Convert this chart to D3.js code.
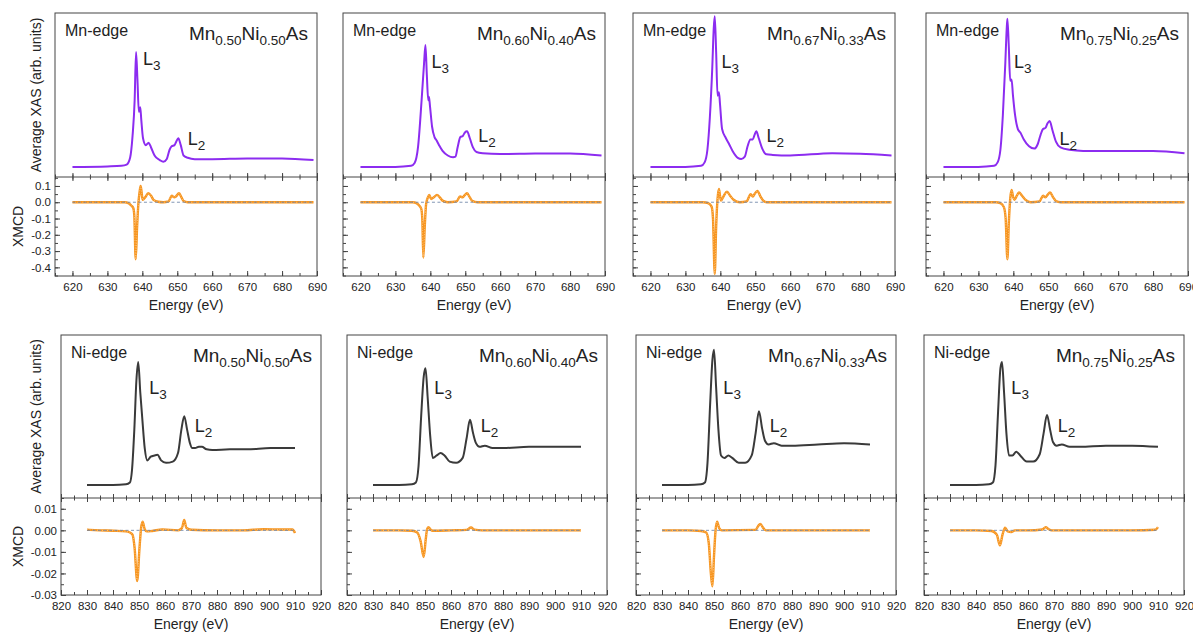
<!DOCTYPE html>
<html>
<head>
<meta charset="utf-8">
<script src="https://cdn.jsdelivr.net/npm/d3@7"></script>
<style>
  body { margin: 0; background: #fff; }
  text { font-family: "Liberation Sans", Arial, sans-serif; fill: #222; }
</style>
</head>
<body>
<div id="chart"></div>
<script>
// compositions (Mn, Ni subscripts)
const compositions = [["0.50", "0.50"], ["0.60", "0.40"], ["0.67", "0.33"], ["0.75", "0.25"]];

// ---- Mn L-edge average XAS, [energy eV, intensity] ----
const mnXas050 = [[620,0],[630,0.005],[634,0.01],[635.5,0.02],[636.5,0.08],[637.2,0.27],[637.8,0.58],[638.2,1.0],[638.6,0.76],[639.0,0.48],[639.4,0.52],[639.7,0.41],[640.2,0.25],[641,0.19],[641.8,0.21],[642.5,0.17],[643.5,0.10],[645,0.06],[646,0.045],[647,0.07],[647.8,0.15],[648.4,0.18],[649.2,0.19],[649.7,0.22],[650.3,0.25],[651,0.19],[651.8,0.10],[653,0.08],[655,0.068],[660,0.068],[670,0.074],[680,0.074],[689,0.06]];
const mnXas060 = [[620,0],[630,0],[634.5,0.01],[635.5,0.035],[636.5,0.18],[637.5,0.58],[638.2,0.9],[638.6,1.06],[639.0,0.8],[639.4,0.58],[639.6,0.61],[639.9,0.53],[640.5,0.35],[641.2,0.26],[641.8,0.23],[642.5,0.19],[643.5,0.14],[645,0.10],[646.5,0.085],[647.2,0.09],[647.8,0.17],[648.6,0.26],[649.3,0.27],[649.9,0.30],[650.5,0.31],[651.3,0.25],[652.2,0.17],[653.2,0.13],[655,0.12],[660,0.113],[670,0.117],[680,0.118],[689,0.10]];
const mnXas067 = [[620,0],[630,0],[634.5,0.01],[635.5,0.04],[636.3,0.15],[637,0.43],[637.7,0.87],[638.1,1.2],[638.4,1.31],[638.8,1.0],[639.2,0.62],[639.6,0.65],[639.9,0.55],[640.5,0.33],[641.6,0.25],[642.5,0.2],[643.5,0.14],[645,0.08],[646,0.07],[647,0.09],[647.8,0.18],[648.6,0.24],[649.3,0.24],[649.8,0.28],[650.3,0.31],[651,0.25],[652,0.16],[653.2,0.11],[655,0.105],[660,0.10],[672,0.12],[680,0.115],[689,0.10]];
const mnXas075 = [[620,0],[630,0],[634.5,0.01],[635.5,0.04],[636.3,0.15],[637,0.45],[637.7,0.9],[638.1,1.2],[638.3,1.29],[638.7,1.05],[639.1,0.75],[639.5,0.76],[639.9,0.62],[640.5,0.45],[641.3,0.33],[642,0.3],[643,0.24],[644.5,0.18],[646,0.16],[647,0.2],[647.8,0.28],[648.5,0.33],[649.2,0.34],[649.8,0.38],[650.4,0.40],[651.2,0.32],[652.2,0.22],[653.5,0.17],[656,0.15],[660,0.14],[670,0.14],[680,0.14],[689,0.12]];

// ---- Mn L-edge XMCD ----
const mnXmcd050 = [[620,0],[635,0],[636,-0.005],[636.8,-0.02],[637.4,-0.035],[637.7,-0.08],[638.1,-0.35],[638.5,-0.15],[638.9,0.0],[639.2,0.06],[639.5,0.10],[639.8,0.06],[640.1,0.015],[640.8,0.03],[641.7,0.055],[642.5,0.04],[643.2,0.015],[644.5,0.003],[646,0],[647.5,0.005],[648.4,0.04],[649.2,0.03],[649.6,0.035],[650.5,0.055],[651.2,0.03],[651.8,0.008],[653,0],[689,0]];
const mnXmcd060 = [[620,0],[635,0],[636,-0.005],[636.8,-0.02],[637.4,-0.04],[637.7,-0.1],[638.0,-0.34],[638.4,-0.15],[638.8,-0.01],[639.3,0.03],[639.7,0.045],[640.2,0.02],[641,0.03],[641.9,0.045],[642.7,0.03],[643.5,0.01],[645,0],[647.5,0.005],[648.5,0.035],[649.2,0.03],[649.7,0.04],[650.5,0.055],[651.3,0.03],[652,0.008],[653.5,0],[689,0]];
const mnXmcd067 = [[620,0],[635,0],[636.5,-0.006],[637.5,-0.027],[637.9,-0.1],[638.4,-0.44],[638.8,-0.15],[639.2,0.02],[639.6,0.082],[639.9,0.04],[640.2,0.01],[641,0.04],[641.9,0.065],[642.8,0.04],[643.8,0.015],[645.6,0],[647.5,0.005],[648.7,0.05],[649.3,0.035],[649.8,0.05],[650.6,0.07],[651.5,0.035],[652.3,0.01],[653.3,0],[689,0]];
const mnXmcd075 = [[620,0],[635,0],[636.3,-0.006],[637.3,-0.03],[637.8,-0.1],[638.3,-0.35],[638.7,-0.13],[639.1,0.02],[639.5,0.075],[639.9,0.035],[640.3,0.015],[641,0.04],[641.6,0.06],[642.5,0.04],[643.5,0.015],[645,0],[647.5,0.005],[648.5,0.04],[649.2,0.03],[649.8,0.045],[650.5,0.06],[651.4,0.03],[652.2,0.008],[653.5,0],[689,0]];

// ---- Ni L-edge average XAS ----
const niXas050 = [[830,0],[840,0],[845,0.005],[846.5,0.02],[847.3,0.12],[848.2,0.45],[849.0,0.85],[849.7,1.0],[850.5,0.75],[851.3,0.53],[852.2,0.3],[853.2,0.2],[854.5,0.23],[856,0.24],[857.1,0.245],[858.5,0.2],[860.4,0.18],[863,0.19],[865,0.26],[866.3,0.45],[867.4,0.56],[868.5,0.45],[869.6,0.34],[870.5,0.3],[871.6,0.3],[873,0.31],[874.2,0.31],[876,0.29],[878.2,0.285],[885,0.29],[891.5,0.29],[900.6,0.3],[910,0.3]];
const niXas060 = [[830,0],[840,0],[845,0.005],[846.5,0.02],[847.5,0.15],[848.5,0.55],[849.5,0.88],[850.2,0.95],[851,0.72],[852,0.4],[853,0.22],[854.5,0.24],[856,0.26],[857.5,0.24],[859.5,0.19],[862,0.18],[864.5,0.22],[866,0.38],[867.3,0.53],[868.5,0.42],[869.6,0.34],[871,0.31],[873,0.32],[876,0.30],[880,0.30],[890,0.31],[900,0.31],[910,0.31]];
const niXas067 = [[830,0],[840,0],[845,0.005],[846.5,0.02],[847.5,0.18],[848.5,0.65],[849.4,1.02],[850,1.1],[850.8,0.8],[851.7,0.45],[852.7,0.24],[854,0.22],[855.5,0.24],[857,0.22],[859.5,0.18],[862,0.18],[864.5,0.24],[866,0.42],[867.3,0.6],[868.5,0.46],[869.6,0.36],[871,0.33],[873,0.34],[876,0.32],[880,0.32],[890,0.33],[900,0.34],[910,0.33]];
const niXas075 = [[830,0],[840,0],[845,0.005],[846.5,0.02],[847.5,0.16],[848.5,0.6],[849.4,0.95],[850,1.0],[850.8,0.75],[851.7,0.42],[852.7,0.24],[854,0.24],[855.5,0.27],[857,0.24],[859.5,0.19],[862,0.19],[864.5,0.25],[866,0.42],[867.3,0.57],[868.5,0.45],[869.6,0.35],[871,0.32],[873,0.33],[876,0.31],[880,0.31],[890,0.32],[900,0.32],[910,0.31]];

// ---- Ni L-edge XMCD ----
const niXmcd050 = [[830,0.0003],[835,0],[840,-0.0002],[845,-0.0005],[846.5,-0.001],[847.5,-0.002],[848.3,-0.008],[849.3,-0.0235],[850.2,-0.008],[850.8,0.001],[851.4,0.004],[852.2,0.0005],[853,-0.0005],[855,-0.0003],[859,0.0004],[865,0],[866.5,0.001],[867.4,0.0048],[868.2,0.0012],[870,0.0003],[880,0],[890,0],[898,0.0005],[905,0.0004],[909,0.0004],[910,-0.0012]];
const niXmcd060 = [[830,0],[840,0],[845,-0.0002],[847,-0.001],[848.3,-0.005],[849.5,-0.0124],[850.3,-0.004],[850.8,0.0005],[851.3,0.0015],[852.2,0.0003],[853,-0.0002],[860,0],[866,0.0002],[867.7,0.0013],[869,0.0003],[872,0],[890,0],[910,0]];
const niXmcd067 = [[830,0],[840,0],[845,-0.0003],[847,-0.001],[848,-0.006],[848.8,-0.02],[849.4,-0.026],[850,-0.012],[850.6,0],[851.2,0.004],[852,0.001],[853,0],[866,0.0002],[867,0.002],[867.8,0.003],[869,0.001],[870,0],[890,0],[910,0]];
const niXmcd075 = [[830,0],[840,0],[846,-0.0003],[848,-0.002],[849.2,-0.007],[850.2,-0.002],[851.2,0.0012],[852.2,-0.0005],[853.5,-0.0008],[855,0],[860,0],[865.5,0.0004],[866.8,0.0015],[868,0.0005],[869,0],[880,0],[900,0],[909,0.0003],[910,0.0015]];

const mnXasSets = [mnXas050, mnXas060, mnXas067, mnXas075];
const mnXmcdSets = [mnXmcd050, mnXmcd060, mnXmcd067, mnXmcd075];
const niXasSets = [niXas050, niXas060, niXas067, niXas075];
const niXmcdSets = [niXmcd050, niXmcd060, niXmcd067, niXmcd075];

// tick values
const mnEnergyTicks = [620, 630, 640, 650, 660, 670, 680, 690];
const niEnergyTicks = [820, 830, 840, 850, 860, 870, 880, 890, 900, 910, 920];
const mnXmcdTicks = [-0.4, -0.3, -0.2, -0.1, 0.0, 0.1];
const niXmcdTicks = [-0.03, -0.02, -0.01, 0.00, 0.01];

// L3 / L2 label anchors [energy, intensity]
const mnL3Labels = [[640.2, 0.89], [640.3, 0.86], [640.3, 0.86], [640.2, 0.86]];
const mnL2Labels = [[653.0, 0.19], [653.7, 0.22], [653.2, 0.22], [653.2, 0.19]];
const niL3Labels = [[853.9, 0.74], [853.6, 0.74], [853.6, 0.74], [853.6, 0.74]];
const niL2Labels = [[871.4, 0.43], [871.4, 0.43], [871.4, 0.43], [871.4, 0.43]];

var W = 1193, H = 635;
var svg = d3.select("#chart").append("svg").attr("width", W).attr("height", H);

var rows = [
  {
    edge: "Mn-edge", lefts: [55, 343, 633, 926], width: 262,
    top: 13, mid: 177, bot: 276,
    xDomain: [615, 690], xTicks: mnEnergyTicks, xMinor: d3.range(615, 691, 5),
    xasDomain: [-0.087, 1.339], xmcdDomain: [-0.453, 0.155],
    yTicks: mnXmcdTicks, yMinor: d3.range(-0.45, 0.151, 0.05), yFmt: (d) => d.toFixed(1),
    xas: mnXasSets, xmcd: mnXmcdSets, l3: mnL3Labels, l2: mnL2Labels,
    xasColor: "#8c2cf0", dash: [620, 689],
  },
  {
    edge: "Ni-edge", lefts: [61, 347, 636, 924], width: 260,
    top: 335, mid: 498, bot: 595,
    xDomain: [820, 920], xTicks: niEnergyTicks, xMinor: d3.range(820, 921, 5),
    xasDomain: [-0.106, 1.22], xmcdDomain: [-0.03, 0.015],
    yTicks: niXmcdTicks, yMinor: d3.range(-0.03, 0.0151, 0.005), yFmt: (d) => d.toFixed(2),
    xas: niXasSets, xmcd: niXmcdSets, l3: niL3Labels, l2: niL2Labels,
    xasColor: "#3a3a3a", dash: [830, 910],
  },
];

var frameColor = "#444";

rows.forEach(function (row) {
  row.lefts.forEach(function (left, i) {
    var g = svg.append("g").attr("transform", "translate(" + left + ",0)");
    var x = d3.scaleLinear().domain(row.xDomain).range([0, row.width]);
    var yXas = d3.scaleLinear().domain(row.xasDomain).range([row.mid, row.top]);
    var yMcd = d3.scaleLinear().domain(row.xmcdDomain).range([row.bot, row.mid]);

    // frames
    g.append("rect")
      .attr("x", 0).attr("y", row.top)
      .attr("width", row.width).attr("height", row.bot - row.top)
      .attr("fill", "none").attr("stroke", frameColor).attr("stroke-width", 1);
    g.append("line")
      .attr("x1", 0).attr("x2", row.width)
      .attr("y1", row.mid).attr("y2", row.mid)
      .attr("stroke", frameColor);

    // bottom energy axis (ticks pointing in)
    g.append("g").attr("transform", "translate(0," + row.bot + ")")
      .call(d3.axisBottom(x).tickValues(row.xTicks).tickSize(-5).tickPadding(7).tickFormat(d3.format("d")));
    g.append("g").attr("transform", "translate(0," + row.bot + ")")
      .call(d3.axisBottom(x).tickValues(row.xMinor).tickSize(-3).tickFormat(""));

    // shared boundary ticks crossing both panels
    [d3.axisBottom, d3.axisTop].forEach(function (ax) {
      g.append("g").attr("transform", "translate(0," + row.mid + ")")
        .call(ax(x).tickValues(row.xTicks).tickSize(4).tickFormat(""));
      g.append("g").attr("transform", "translate(0," + row.mid + ")")
        .call(ax(x).tickValues(row.xMinor).tickSize(2.5).tickFormat(""));
    });

    // XMCD left axis
    g.append("g")
      .call(d3.axisLeft(yMcd).tickValues(row.yTicks).tickSize(-5).tickPadding(4)
        .tickFormat(i === 0 ? row.yFmt : ""));
    g.append("g")
      .call(d3.axisLeft(yMcd).tickValues(row.yMinor).tickSize(-3).tickFormat(""));

    g.selectAll(".domain").remove();
    g.selectAll(".tick line").attr("stroke", frameColor);
    g.selectAll(".tick text").attr("fill", "#333").style("font-size", "11.5px")
      .style("font-family", '"Liberation Sans", Arial, sans-serif');

    // XAS curve
    var lineXas = d3.line().x((d) => x(d[0])).y((d) => yXas(d[1])).curve(d3.curveMonotoneX);
    g.append("path").datum(row.xas[i])
      .attr("d", lineXas).attr("fill", "none")
      .attr("stroke", row.xasColor).attr("stroke-width", 2);

    // XMCD curve + zero reference
    var lineMcd = d3.line().x((d) => x(d[0])).y((d) => yMcd(d[1])).curve(d3.curveMonotoneX);
    g.append("path").datum(row.xmcd[i])
      .attr("d", lineMcd).attr("fill", "none")
      .attr("stroke", "#f7941d").attr("stroke-width", 2.4);
    g.append("path").datum(row.xmcd[i])
      .attr("d", lineMcd).attr("fill", "none")
      .attr("stroke", "#fbc27a").attr("stroke-width", 1).attr("stroke-dasharray", "1,1.5");
    g.append("line")
      .attr("x1", x(row.dash[0])).attr("x2", x(row.dash[1]))
      .attr("y1", yMcd(0)).attr("y2", yMcd(0))
      .attr("stroke", "#6f86a8").attr("stroke-width", 1).attr("stroke-dasharray", "3,2.5")
      .attr("opacity", 0.85);

    // labels
    g.append("text").attr("x", 10).attr("y", row.top + 23)
      .style("font-size", "16px").text(row.edge);

    var comp = g.append("text").attr("x", row.width - 9).attr("y", row.top + 27)
      .attr("text-anchor", "end").style("font-size", "19px");
    comp.append("tspan").text("Mn");
    comp.append("tspan").attr("dy", 5).style("font-size", "13.5px").text(compositions[i][0]);
    comp.append("tspan").attr("dy", -5).text("Ni");
    comp.append("tspan").attr("dy", 5).style("font-size", "13.5px").text(compositions[i][1]);
    comp.append("tspan").attr("dy", -5).text("As");

    [[row.l3[i], "3"], [row.l2[i], "2"]].forEach(function (lab) {
      var t = g.append("text").attr("x", x(lab[0][0])).attr("y", yXas(lab[0][1]))
        .style("font-size", "18px");
      t.append("tspan").text("L");
      t.append("tspan").attr("dy", 5).style("font-size", "13.5px").text(lab[1]);
    });

    // x title
    g.append("text").attr("x", row.width / 2).attr("y", row.bot + 34)
      .attr("text-anchor", "middle").style("font-size", "14px").text("Energy (eV)");

    // y titles on first column
    if (i === 0) {
      g.append("text")
        .attr("transform", "translate(" + (-left + 41) + "," + ((row.top + row.mid) / 2) + ") rotate(-90)")
        .attr("text-anchor", "middle").style("font-size", "14px")
        .text("Average XAS (arb. units)");
      g.append("text")
        .attr("transform", "translate(" + (-left + 23) + "," + ((row.mid + row.bot) / 2) + ") rotate(-90)")
        .attr("text-anchor", "middle").style("font-size", "14px")
        .text("XMCD");
    }
  });
});
</script>
</body>
</html>
